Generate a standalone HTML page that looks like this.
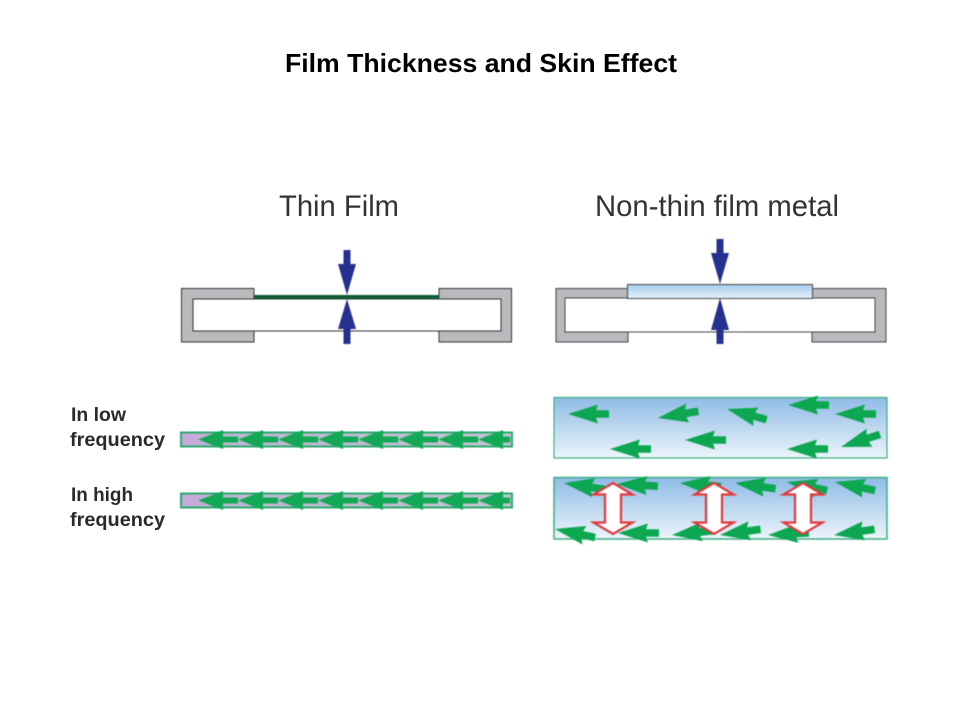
<!DOCTYPE html>
<html><head><meta charset="utf-8"><style>
html,body{margin:0;padding:0;background:#fff}
svg{display:block}
text{font-family:"Liberation Sans",sans-serif}
.soft{filter:blur(.4px)}
</style></head><body>
<svg width="960" height="720" viewBox="0 0 960 720" xmlns="http://www.w3.org/2000/svg">
<defs>
<linearGradient id="bl" x1="0" y1="0" x2="0" y2="1"><stop offset="0" stop-color="#8fbbe6"/><stop offset="1" stop-color="#edf5fb"/></linearGradient>
<linearGradient id="fl" x1="0" y1="0" x2="0" y2="1"><stop offset="0" stop-color="#a5cdee"/><stop offset="1" stop-color="#e6f2fb"/></linearGradient>
<linearGradient id="li" x1="0" y1="0" x2="1" y2="0"><stop offset="0" stop-color="#c8a9dc"/><stop offset=".15" stop-color="#c0b4d4"/><stop offset="1" stop-color="#c4c4d0"/></linearGradient>
<path id="a" d="M0 0L30 -9.500L28 -3.800H41V3.800H28L30 9.500Z" fill="#0ca750"/>
<path id="d" d="M0 -25.500L19.500 -14H8V14H19.500L0 25.500L-19.500 14H-8V-14H-19.500Z" fill="#fff" stroke="#e0383c" stroke-width="2.200"/>
<path id="s" d="M0 0L25 -9.500V-3H40V3H25V9.500Z" fill="#12a856"/>
<path id="s2" d="M0 0L25 -9.500V-3H32V3H25V9.500Z" fill="#12a856"/>
</defs>

<text x="481" y="72" font-size="26" font-weight="bold" text-anchor="middle" textLength="392" lengthAdjust="spacingAndGlyphs" fill="#000">Film Thickness and Skin Effect</text>
<text x="279" y="216" font-size="29.500" fill="#333" textLength="120" lengthAdjust="spacingAndGlyphs">Thin Film</text>
<text x="595" y="216" font-size="29.500" fill="#333" textLength="244" lengthAdjust="spacingAndGlyphs">Non-thin film metal</text>

<g class="soft">
<!-- left device -->
<path d="M181.500 288.500H254V299H193V331H254V342H181.500Z" fill="#b9babd" stroke="#333" stroke-width="1"/>
<path d="M511.500 288.500H439V299H501V331H439V342H511.500Z" fill="#b9babd" stroke="#333" stroke-width="1"/>
<path d="M254 299H439M193 299V331H501V299M254 331H439" fill="none" stroke="#333" stroke-width="1"/>
<rect x="254" y="295" width="185" height="4" fill="#0f5c36"/>
<path d="M343.500 250H350.500V264H356L347 295L338 264H343.500Z" fill="#25308f"/>
<path d="M343.500 344H350.500V329H356L347 299L338 329H343.500Z" fill="#25308f"/>

<!-- right device -->
<path d="M556 288.500H628V298H565V332H628V342H556Z" fill="#b9babd" stroke="#444" stroke-width="1"/>
<path d="M886 288.500H812V298H875V332H812V342H886Z" fill="#b9babd" stroke="#444" stroke-width="1"/>
<path d="M628 332H812" stroke="#444" stroke-width="1"/>
<rect x="627.500" y="284.500" width="185" height="14" fill="url(#fl)" stroke="#444" stroke-width="1"/>
<path d="M716.500 239H723.500V253H729L720 284L711 253H716.500Z" fill="#25308f"/>
<path d="M716.500 344H723.500V330H729L720 298L711 330H716.500Z" fill="#25308f"/>

<!-- strips -->
<rect x="181" y="432.500" width="331" height="14" fill="url(#li)" stroke="#2aaa6c" stroke-width="2"/>
<g transform="translate(0,439.500)">
<use href="#s" x="198"/><use href="#s" x="238"/><use href="#s" x="278"/><use href="#s" x="318"/><use href="#s" x="358"/><use href="#s" x="398"/><use href="#s" x="438"/><use href="#s2" x="478"/>
</g>
<rect x="181" y="493.500" width="331" height="14" fill="url(#li)" stroke="#2aaa6c" stroke-width="2"/>
<g transform="translate(0,500.500)">
<use href="#s" x="198"/><use href="#s" x="238"/><use href="#s" x="278"/><use href="#s" x="318"/><use href="#s" x="358"/><use href="#s" x="398"/><use href="#s" x="438"/><use href="#s2" x="478"/>
</g>

<!-- box 1 -->
<rect x="554" y="397.500" width="333" height="60.500" fill="url(#bl)" stroke="#3aaf85" stroke-width="1.200"/>
<use href="#a" transform="translate(568,414)"/>
<use href="#a" transform="translate(658,418) rotate(-9.500)"/>
<use href="#a" transform="translate(727,409) rotate(15)"/>
<use href="#a" transform="translate(788,405)"/>
<use href="#a" transform="translate(835,414)"/>
<use href="#a" transform="translate(841,447) rotate(-18)"/>
<use href="#a" transform="translate(685,440)"/>
<use href="#a" transform="translate(610,449)"/>
<use href="#a" transform="translate(787,449)"/>

<!-- box 2 -->
<rect x="554" y="477.500" width="333" height="61.500" fill="url(#bl)" stroke="#3aaf85" stroke-width="1.500"/>
<use href="#a" transform="translate(564,483) rotate(9)"/>
<use href="#a" transform="translate(617,484) rotate(3)"/>
<use href="#a" transform="translate(680,483) rotate(5)"/>
<use href="#a" transform="translate(735,483) rotate(8)"/>
<use href="#a" transform="translate(787,482) rotate(12)"/>
<use href="#a" transform="translate(835,482) rotate(12)"/>
<use href="#a" transform="translate(555,529) rotate(12)"/>
<use href="#a" transform="translate(618,533)"/>
<use href="#a" transform="translate(672,535) rotate(-6)"/>
<use href="#a" transform="translate(720,535) rotate(-8)"/>
<use href="#a" transform="translate(768,535) rotate(-3)"/>
<use href="#a" transform="translate(834,535) rotate(-8)"/>
<use href="#d" transform="translate(613,508.500)"/>
<use href="#d" transform="translate(714,508.500)"/>
<use href="#d" transform="translate(803,508.500)"/>
</g>

<!-- labels -->
<g font-size="19" font-weight="bold" fill="#2a2a2a">
<text x="71" y="421" textLength="55" lengthAdjust="spacingAndGlyphs">In low</text>
<text x="70" y="446" textLength="95" lengthAdjust="spacingAndGlyphs">frequency</text>
<text x="71" y="501" textLength="62" lengthAdjust="spacingAndGlyphs">In high</text>
<text x="70" y="526" textLength="95" lengthAdjust="spacingAndGlyphs">frequency</text>
</g>
</svg>
</body></html>
